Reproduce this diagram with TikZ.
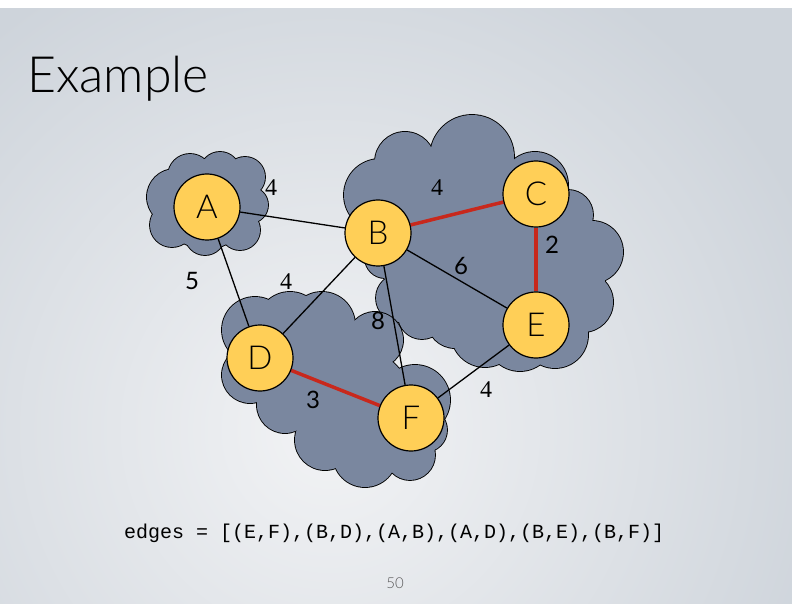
\documentclass[tikz,border=0pt]{standalone}
\usepackage{fontspec}
\newfontfamily\thinsans{Lato Light}
\newfontfamily\digitsans{Lato}
\newfontfamily\serifdigit{Liberation Serif}
\newfontfamily\codefont{Liberation Mono}
\definecolor{nodeyellow}{HTML}{FFCF57}
\definecolor{cloudfill}{HTML}{7A879F}
\definecolor{edgered}{HTML}{C8281C}
\definecolor{slideinner}{HTML}{F2F3F5}
\definecolor{slideouter}{HTML}{CED4DB}
\pgfdeclarelayer{clouds}
\pgfdeclarelayer{links}
\pgfsetlayers{clouds,links,main}
% a cloud is a union of puffs: stroke every puff, then fill them all
\newcommand\cloudpuffs[1]{%
  \foreach \cx/\cy/\r in {#1} {\draw[line width=1.8pt] (\cx,\cy) circle[radius=\r];}%
  \foreach \cx/\cy/\r in {#1} {\fill[cloudfill] (\cx,\cy) circle[radius=\r];}%
}
\begin{document}
\begin{tikzpicture}[x=1pt,y=-1pt,
  vertex/.style={circle,draw=black,line width=1.2pt,fill=nodeyellow,minimum size=66pt,
    inner sep=0pt,font=\thinsans\fontsize{33}{33}\selectfont},
  plain/.style={draw=black,line width=1.3pt},
  chosen/.style={draw=edgered,line width=3.5pt},
  weight/.style={font=\serifdigit\fontsize{24}{24}\selectfont,inner sep=0pt},
  sweight/.style={font=\digitsans\fontsize{24}{24}\selectfont,inner sep=0pt}]
\useasboundingbox (0,0) rectangle (792,612);

\begin{pgfonlayer}{clouds}
  \fill[white] (0,0) rectangle (792,612);
  \begin{scope}
    \clip (0,9) rectangle (792,603);
    \shade[inner color=slideinner,outer color=slideouter] (-190,-90) rectangle (850,950);
  \end{scope}
  % cloud around A
  \cloudpuffs{206/204/45, 175/197/28, 190/176/22, 220/172/20, 245/177/20,
    250/205/18, 240/230/20, 205/235/20, 172/225/22}
  % cloud around B, C, E
  \cloudpuffs{470/250/90, 420/230/60, 550/280/55, 500/300/60,
    380/195/36, 405/162/30, 472/157/42, 535/185/33, 568/215/25, 592/252/31,
    583/302/30, 555/335/33, 520/337/34, 485/333/34, 455/320/28, 422/315/24,
    400/298/24, 385/258/20}
  % cloud around D, F
  \cloudpuffs{320/380/55, 360/400/50, 300/350/45, 255/330/33, 290/325/33,
    322/325/33, 375/340/28, 415/400/35, 425/430/22, 410/455/25, 365/455/32,
    325/440/30, 285/405/28, 250/375/28}
\end{pgfonlayer}

\node[vertex] (A) at (207,207) {A};
\node[vertex] (B) at (378,233) {B};
\node[vertex] (C) at (536,194) {C};
\node[vertex] (E) at (536,325) {E};
\node[vertex] (D) at (260,358) {D};
\node[vertex] (F) at (411,418) {F};

\begin{pgfonlayer}{links}
  \draw[plain] (A) -- (B);
  \draw[plain] (A) -- (D);
  \draw[plain] (B) -- (D);
  \draw[plain] (B) -- (F);
  \draw[plain] (B) -- (E);
  \draw[plain] (E) -- (F);
  \draw[chosen] (B) -- (C);
  \draw[chosen] (C) -- (E);
  \draw[chosen] (D) -- (F);
\end{pgfonlayer}

\node[weight] (wab) at (271,188) {4};
\node[weight] (wbc) at (437,188) {4};
\node[sweight] (wce) at (552,245) {2};
\node[sweight] (wbe) at (461,266) {6};
\node[sweight] (wad) at (192,281) {5};
\node[weight] (wbd) at (286,282) {4};
\node[sweight] (wbf) at (378,321) {8};
\node[sweight] (wdf) at (313,400) {3};
\node[weight] (wef) at (486,390) {4};

\node[anchor=base west,inner sep=0pt,font=\thinsans\fontsize{50}{50}\selectfont] (title) at (27,93) {Example};
\node[anchor=base west,inner sep=0pt,font=\codefont\fontsize{20}{20}\selectfont] (code) at (124,538)
  {edges = [(E,F),(B,D),(A,B),(A,D),(B,E),(B,F)]};
\node[inner sep=0pt,text=black!65,font=\thinsans\fontsize{15}{15}\selectfont] (page) at (395,583) {50};
\end{tikzpicture}
\end{document}
